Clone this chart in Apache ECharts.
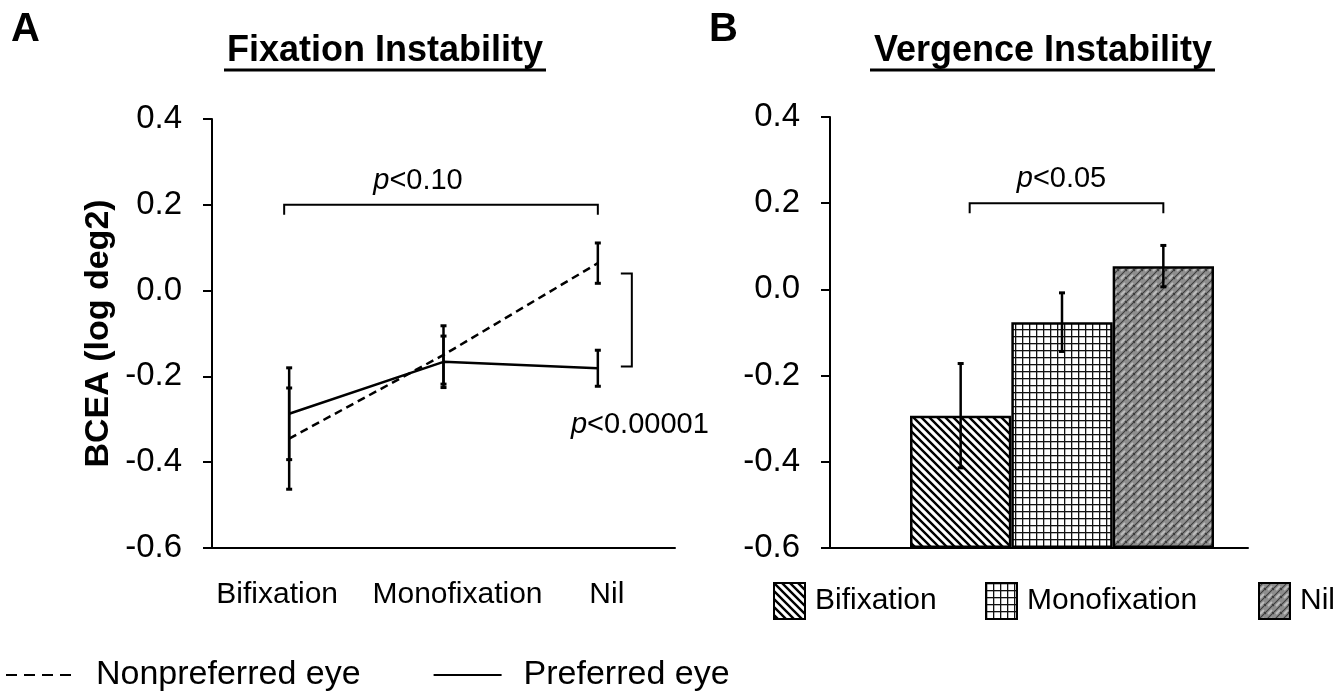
<!DOCTYPE html>
<html><head><meta charset="utf-8">
<script src="https://cdn.jsdelivr.net/npm/echarts@6/dist/echarts.min.js"></script>
<style>html,body{margin:0;padding:0;background:#fff}#c{width:1334px;height:699px}</style>
</head><body><div id="c"></div>
<script>
// ---- data ----
const categories = ['Bifixation', 'Monofixation', 'Nil'];
const nonpreferredMean = [-0.345, -0.150, 0.064];
const nonpreferredErr  = [0.118, 0.068, 0.047];
const preferredMean    = [-0.287, -0.166, -0.181];
const preferredErr     = [0.107, 0.060, 0.042];
const vergenceMean     = [-0.293, -0.076, 0.054];
const vergenceErr      = [0.121, 0.068, 0.048];
const yMin = -0.6, yMax = 0.4, yStep = 0.2;
const fixBracket  = [0, 2, 0.2];       // from category, to category, level
const eyeBracket  = [2, 0.04, -0.177]; // category, upper, lower
const vergBracket = [0, 2, 0.2];
const fixBracketText = '<0.10', eyeBracketText = '<0.00001', vergBracketText = '<0.05';

// ---- styling ----
const FONT = "'Liberation Sans', Arial, sans-serif";
const labelShift = [-12, 14, 9]; // horizontal nudges of the category labels (px)

function pattern(kind) {
  const c = document.createElement('canvas');
  const ctx = c.getContext('2d');
  if (kind === 'diag') {
    c.width = c.height = 8;
    ctx.fillStyle = '#fff'; ctx.fillRect(0, 0, 8, 8);
    ctx.strokeStyle = '#000'; ctx.lineWidth = 2.4;
    ctx.beginPath();
    ctx.moveTo(-1, -1); ctx.lineTo(9, 9);
    ctx.moveTo(-1, 7); ctx.lineTo(1, 9);
    ctx.moveTo(7, -1); ctx.lineTo(9, 1);
    ctx.stroke();
  } else if (kind === 'grid') {
    c.width = c.height = 7;
    ctx.fillStyle = '#fff'; ctx.fillRect(0, 0, 7, 7);
    ctx.fillStyle = '#111';
    ctx.fillRect(0, 0, 7, 1.3); ctx.fillRect(0, 0, 1.3, 7);
  } else {
    c.width = c.height = 8;
    ctx.fillStyle = '#8e8e8e'; ctx.fillRect(0, 0, 8, 8);
    ctx.strokeStyle = '#bdbdbd'; ctx.lineWidth = 2;
    ctx.beginPath(); ctx.moveTo(1, 7); ctx.lineTo(5, 3); ctx.stroke();
    ctx.strokeStyle = '#3c3c3c'; ctx.lineWidth = 1.1;
    ctx.beginPath();
    ctx.moveTo(-1, 5); ctx.lineTo(5, -1);
    ctx.moveTo(3, 9); ctx.lineTo(9, 3);
    ctx.moveTo(5, 5); ctx.lineTo(7, 7);
    ctx.stroke();
  }
  return { image: c, repeat: 'repeat' };
}
const barPatterns = [pattern('diag'), pattern('grid'), pattern('weave')];

// ---- helpers ----
// bars grow from the bottom of the axis: their hidden axis counts from yMin
function errData(m, e, base) { base = base || 0; return categories.map((c, i) => [i, m[i] - e[i] - base, m[i] + e[i] - base]); }
function errRender(cw) {
  return function (params, api) {
    const x = api.value(0);
    const lo = api.coord([x, api.value(1)]);
    const hi = api.coord([x, api.value(2)]);
    return { type: 'group', children: [
      { type: 'line', shape: { x1: lo[0], y1: lo[1], x2: hi[0], y2: hi[1] }, style: { stroke: '#000', lineWidth: 2.5 } },
      { type: 'line', shape: { x1: lo[0] - cw, y1: lo[1], x2: lo[0] + cw, y2: lo[1] }, style: { stroke: '#000', lineWidth: 3 } },
      { type: 'line', shape: { x1: hi[0] - cw, y1: hi[1], x2: hi[0] + cw, y2: hi[1] }, style: { stroke: '#000', lineWidth: 3 } }
    ]};
  };
}
function pText(x, y, rest) {
  return { type: 'text', x: x, y: y, style: {
    text: '{i|p}{n|' + rest + '}', align: 'center', verticalAlign: 'middle',
    rich: { i: { fontStyle: 'italic', fontSize: 29, fontFamily: FONT, fill: '#000' },
            n: { fontSize: 29, fontFamily: FONT, fill: '#000' } } } };
}
function hBracketRender(txt, leftNudge, textNudge) {
  return function (params, api) {
    const a = api.coord([api.value(0), api.value(2)]);
    const b = api.coord([api.value(1), api.value(2)]);
    const ax = a[0] + leftNudge;
    return { type: 'group', children: [
      { type: 'polyline', shape: { points: [[ax, a[1] + 10], [ax, a[1]], [b[0], b[1]], [b[0], b[1] + 10]] },
        style: { stroke: '#000', lineWidth: 2, fill: null } },
      pText((ax + b[0]) / 2 + textNudge, a[1] - 24, txt)
    ]};
  };
}
function vBracketRender(params, api) {
  const a = api.coord([api.value(0), api.value(1)]);
  const b = api.coord([api.value(0), api.value(2)]);
  const x1 = a[0] + 23, x2 = a[0] + 34;
  return { type: 'group', children: [
    { type: 'polyline', shape: { points: [[x1, a[1]], [x2, a[1]], [x2, b[1]], [x1, b[1]]] },
      style: { stroke: '#000', lineWidth: 2, fill: null } },
    pText(a[0] + 42, b[1] + 58, eyeBracketText)
  ]};
}

const axisLineStyle = { color: '#000', width: 2 };
function yAxisCfg(grid, extra) {
  return Object.assign({
    gridIndex: grid, type: 'value', min: yMin, max: yMax, interval: yStep,
    axisLine: { show: true, onZero: false, lineStyle: axisLineStyle },
    axisTick: { show: true, length: 9, lineStyle: axisLineStyle },
    axisLabel: { fontSize: 33, color: '#000', fontFamily: FONT, margin: 30, formatter: v => v.toFixed(1) },
    splitLine: { show: false }
  }, extra || {});
}
const legendText = { fontSize: 30, color: '#000', fontFamily: FONT, padding: [0, 0, 0, 5] };
function barLegend(i, left) {
  return { data: [categories[i]], left: left, top: 582, itemWidth: 31, itemHeight: 36, padding: 0,
    icon: 'rect', selectedMode: false, textStyle: legendText };
}

const chart = echarts.init(document.getElementById('c'), null, { renderer: 'canvas' });
chart.setOption({
  animation: false,
  backgroundColor: '#fff',
  textStyle: { fontFamily: FONT, color: '#000' },
  grid: [
    { left: 212, top: 119, width: 463, height: 429 },
    { left: 830, top: 117, width: 418, height: 431 },
    { left: 910, top: 117, width: 304, height: 431 }
  ],
  xAxis: [
    { gridIndex: 0, type: 'category', boundaryGap: true,
      data: categories.map((c, i) => ({ value: c, textStyle: {
        padding: labelShift[i] < 0 ? [0, -2 * labelShift[i], 0, 0] : [0, 0, 0, 2 * labelShift[i]] } })),
      axisLine: { onZero: false, lineStyle: axisLineStyle },
      axisTick: { alignWithLabel: true, length: 13, lineStyle: axisLineStyle },
      axisLabel: { fontSize: 30, color: '#000', fontFamily: FONT, margin: 32, interval: 0, hideOverlap: false } },
    { gridIndex: 1, type: 'value', min: 0, max: 1,
      axisLine: { onZero: false, lineStyle: axisLineStyle },
      axisTick: { show: false }, axisLabel: { show: false }, splitLine: { show: false } },
    { gridIndex: 2, type: 'category', data: categories, show: false }
  ],
  yAxis: [
    yAxisCfg(0, { name: 'BCEA (log deg2)', nameLocation: 'middle', nameGap: 96,
      nameTextStyle: { fontSize: 34, fontWeight: 'bold', color: '#000', fontFamily: FONT } }),
    yAxisCfg(1),
    { gridIndex: 2, type: 'value', min: 0, max: yMax - yMin, show: false }
  ],
  legend: [
    { data: [{ name: 'Nonpreferred eye', lineStyle: { type: [11, 7] } }, { name: 'Preferred eye' }],
      left: 5, top: 658, itemWidth: 68, itemHeight: 16,
      itemGap: 72, padding: 0, selectedMode: false, itemStyle: { opacity: 0 },
      textStyle: { fontSize: 34, color: '#000', fontFamily: FONT, padding: [0, 0, 0, 17] } },
    barLegend(0, 773), barLegend(1, 985), barLegend(2, 1258)
  ],
  series: [
    { name: 'Nonpreferred eye', type: 'line', xAxisIndex: 0, yAxisIndex: 0, data: nonpreferredMean,
      symbol: 'none', lineStyle: { color: '#000', width: 2.5, type: [8, 5] }, itemStyle: { color: '#000' }, z: 3 },
    { name: 'Preferred eye', type: 'line', xAxisIndex: 0, yAxisIndex: 0, data: preferredMean,
      symbol: 'none', lineStyle: { color: '#000', width: 2.5, type: 'solid' }, itemStyle: { color: '#000' }, z: 3 },
    { type: 'custom', xAxisIndex: 0, yAxisIndex: 0, data: errData(nonpreferredMean, nonpreferredErr), renderItem: errRender(3), z: 4 },
    { type: 'custom', xAxisIndex: 0, yAxisIndex: 0, data: errData(preferredMean, preferredErr), renderItem: errRender(3), z: 4 },
    { type: 'custom', xAxisIndex: 0, yAxisIndex: 0, data: [fixBracket], renderItem: hBracketRender(fixBracketText, -5, -23), z: 4 },
    { type: 'custom', xAxisIndex: 0, yAxisIndex: 0, data: [eyeBracket], renderItem: vBracketRender, z: 4 },
    ...categories.map((c, i) => ({
      name: c, type: 'bar', xAxisIndex: 2, yAxisIndex: 2,
      data: categories.map((d, j) => j === i ? vergenceMean[i] - yMin : '-'),
      barWidth: '100%', barGap: '-100%', barCategoryGap: '0%',
      itemStyle: { color: barPatterns[i], borderColor: '#000', borderWidth: 2.5 }, z: 2
    })),
    { type: 'custom', xAxisIndex: 2, yAxisIndex: 2, data: errData(vergenceMean, vergenceErr, yMin), renderItem: errRender(3), z: 5 },
    { type: 'custom', xAxisIndex: 2, yAxisIndex: 2, data: [[vergBracket[0], vergBracket[1], vergBracket[2] - yMin]],
      renderItem: hBracketRender(vergBracketText, 9, -5), z: 5 }
  ],
  graphic: [
    { type: 'text', left: 11, top: 10, style: { text: 'A', font: "bold 40px " + FONT, fill: '#000' } },
    { type: 'text', left: 709, top: 10, style: { text: 'B', font: "bold 40px " + FONT, fill: '#000' } },
    { type: 'text', x: 385, y: 51, style: { text: 'Fixation Instability', font: "bold 36px " + FONT, fill: '#000', align: 'center', verticalAlign: 'middle' } },
    { type: 'line', shape: { x1: 224, y1: 70, x2: 546, y2: 70 }, style: { stroke: '#000', lineWidth: 3 } },
    { type: 'text', x: 1043, y: 51, style: { text: 'Vergence Instability', font: "bold 36px " + FONT, fill: '#000', align: 'center', verticalAlign: 'middle' } },
    { type: 'line', shape: { x1: 870, y1: 70, x2: 1215, y2: 70 }, style: { stroke: '#000', lineWidth: 3 } }
  ]
});
</script></body></html>
